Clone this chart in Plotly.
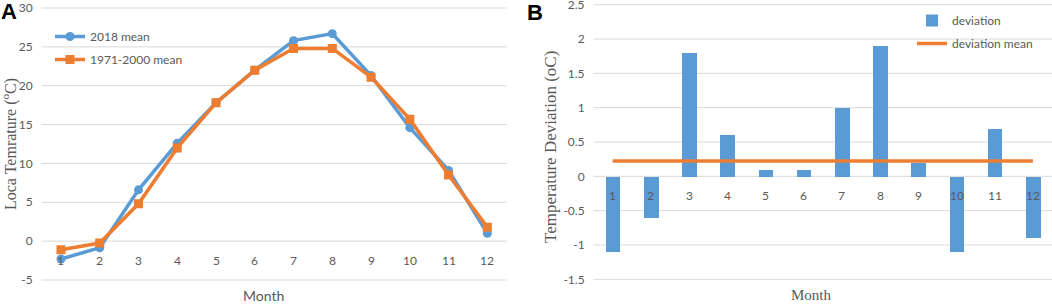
import plotly.graph_objects as go

months = list(range(1, 13))
month_labels = [str(m) for m in months]
mean_2018 = [-2.3, -0.85, 6.6, 12.6, 17.8, 22.0, 25.8, 26.7, 21.3, 14.6, 9.1, 1.0]
mean_1971_2000 = [-1.1, -0.25, 4.8, 12.0, 17.8, 22.0, 24.8, 24.8, 21.1, 15.7, 8.5, 1.8]
deviation = [-1.1, -0.6, 1.8, 0.6, 0.1, 0.1, 1.0, 1.9, 0.2, -1.1, 0.7, -0.9]
deviation_mean = [round(sum(deviation) / len(deviation), 3)] * 12
left_ticks = [-5, 0, 5, 10, 15, 20, 25, 30]
right_ticks = [-1.5, -1, -0.5, 0, 0.5, 1, 1.5, 2, 2.5]

BLUE = "#5B9BD5"
ORANGE = "#ED7D31"
GRID = "#D9D9D9"
TXT = "#595959"
SANS = "Lato, 'Open Sans', sans-serif"
SERIF = "'Liberation Serif', 'DejaVu Serif', serif"

W, H = 1052, 304
def px(x):
    return x / W
def py(y):
    return (H - y) / H

def padded(lo, hi, ytop, ybot, padpx=3.0):
    scale = (ybot - ytop) / (hi - lo)
    pad = padpx / scale
    return [lo - pad, hi + pad], [max(0.0, py(ybot + padpx)), min(1.0, py(ytop - padpx))]

yr1, yd1 = padded(-5, 30, 8, 280)
yr2, yd2 = padded(-1.5, 2.5, 4.7, 279.3, padpx=2.0)

fig = go.Figure()

fig.add_trace(go.Scatter(x=months, y=mean_2018, mode="lines+markers", name="2018 mean",
                         line=dict(color=BLUE, width=3.5), marker=dict(symbol="circle", size=9, color=BLUE),
                         xaxis="x", yaxis="y", legend="legend", legendgroup="a"))
fig.add_trace(go.Scatter(x=months, y=mean_1971_2000, mode="lines+markers", name="1971-2000 mean",
                         line=dict(color=ORANGE, width=3.5), marker=dict(symbol="square", size=9, color=ORANGE),
                         xaxis="x", yaxis="y", legend="legend", legendgroup="b"))
fig.add_trace(go.Bar(x=months, y=deviation, name="deviation", marker=dict(color=BLUE, line=dict(width=0)),
                     width=0.38, xaxis="x2", yaxis="y2", legend="legend2", legendgroup="c"))
fig.add_trace(go.Scatter(x=months, y=deviation_mean, mode="lines", name="deviation mean",
                         line=dict(color=ORANGE, width=3.5), xaxis="x2", yaxis="y2", legend="legend2",
                         legendgroup="d"))

# gridlines drawn from the tick arrays (so the edge ones are not dropped)
shapes = []
for v in left_ticks:
    shapes.append(dict(type="line", xref="x domain", yref="y", x0=0, x1=1, y0=v, y1=v,
                       line=dict(color=GRID, width=1), layer="below"))
for v in right_ticks:
    shapes.append(dict(type="line", xref="x2 domain", yref="y2", x0=0, x1=1, y0=v, y1=v,
                       line=dict(color=GRID, width=1), layer="below"))

annotations = []
for m, lab in zip(months, month_labels):
    for xr, yr in (("x", "y"), ("x2", "y2")):
        annotations.append(dict(x=m, y=0, xref=xr, yref=yr, text=lab, showarrow=False,
                                xanchor="center", yanchor="top", yshift=-10,
                                font=dict(family=SANS, size=12, color=TXT)))

def ann(x, y, text, font, angle=0):
    return dict(x=px(x), y=py(y), xref="paper", yref="paper", text=text, showarrow=False,
                xanchor="center", yanchor="middle", textangle=angle, font=font)

annotations += [
    ann(263, 295, "Month", dict(family=SANS, size=14, color=TXT)),
    ann(811, 295, "Month", dict(family=SERIF, size=15, color=TXT)),
    ann(9, 144, "Loca Temrature (<sup>o</sup>C)", dict(family=SERIF, size=16, color=TXT), -90),
    ann(550, 147, "Temperature Deviation (oC)", dict(family=SERIF, size=17, color=TXT), -90),
    ann(9, 11, "<b>A</b>", dict(family="Liberation Sans, Arial, sans-serif", size=22, color="black")),
    ann(535, 12, "<b>B</b>", dict(family="Liberation Sans, Arial, sans-serif", size=22, color="black")),
]

xcommon = dict(range=[0.5, 12.5], showticklabels=False, showgrid=False, zeroline=False, showline=False,
               ticks="", automargin=False)
ycommon = dict(showgrid=False, zeroline=False, showline=False, ticks="",
               ticklabelstandoff=8, automargin=False, ticklabeloverflow="allow", tickmode="array",
               tickfont=dict(family=SANS, size=12, color=TXT))
fig.update_layout(
    width=W, height=H, autosize=False,
    margin=dict(l=0, r=0, t=0, b=0, autoexpand=False),
    paper_bgcolor="white", plot_bgcolor="white",
    xaxis=dict(domain=[px(41.6), px(506.7)], anchor="y", **xcommon),
    xaxis2=dict(domain=[px(593.6), 1.0], anchor="y2", **xcommon),
    yaxis=dict(domain=yd1, range=yr1, tickvals=left_ticks, ticktext=[f"{v:g}" for v in left_ticks],
               anchor="x", **ycommon),
    yaxis2=dict(domain=yd2, range=yr2, tickvals=right_ticks, ticktext=[f"{v:g}" for v in right_ticks],
                anchor="x2", **ycommon),
    legend=dict(x=px(50), y=py(22), xanchor="left", yanchor="top", bgcolor="rgba(0,0,0,0)",
                font=dict(family=SANS, size=12, color=TXT), tracegroupgap=4),
    legend2=dict(x=px(912), y=py(6), xanchor="left", yanchor="top", bgcolor="rgba(0,0,0,0)",
                 font=dict(family=SANS, size=12, color=TXT), tracegroupgap=4),
    annotations=annotations,
    shapes=shapes,
    bargap=0,
)

fig.write_html("out.html", config={"displayModeBar": False},
               post_script="document.body.style.margin='0';document.body.style.overflow='hidden';")
